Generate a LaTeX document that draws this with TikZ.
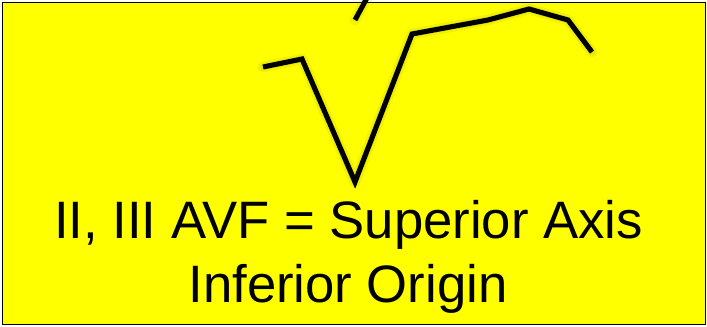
\documentclass[tikz,border=0pt]{standalone}
\usepackage{fontspec}
\setmainfont{Liberation Sans}
\usetikzlibrary{positioning}
\definecolor{leadbg}{RGB}{255,255,0}
\definecolor{shade}{RGB}{150,150,0}

\begin{document}
\begin{tikzpicture}[x=0.75pt, y=-0.75pt,
			trace/.style={draw=black, line width=3.8pt, line join=miter, line cap=butt},
			traceshadow/.style={draw=shade, line width=8pt, opacity=0.12, line join=round, line cap=round, shift={(1.5,3)}},
			caption/.style={anchor=base, inner sep=0pt, font=\fontsize{39.5}{47}\selectfont}
			]
			\useasboundingbox (0,0) rectangle (707,326);
			\clip (0,0) rectangle (707,326);
			
			% Lead panel
			\draw[fill=leadbg, draw=black, line width=1.1pt] (2.5,2.5) rectangle (705.5,324.5);
			
			% QRS complex
			\coordinate (q0) at (263,67);
			\coordinate (q1) at (302,59);
			\coordinate (q2) at (355,182);
			\coordinate (q3) at (412,34);
			\coordinate (q4) at (488,20);
			\coordinate (q5) at (529,9);
			\coordinate (q6) at (568,20);
			\coordinate (q7) at (592,52);
			\coordinate (t0) at (355,20);
			\coordinate (t1) at (368,-4);
			
			\draw[traceshadow] (q0) -- (q1) -- (q2) -- (q3) -- (q4) -- (q5) -- (q6) -- (q7);
			\draw[traceshadow, line width=5pt] (q0) -- (q1) -- (q2) -- (q3) -- (q4) -- (q5) -- (q6) -- (q7);
			\draw[traceshadow] (t0) -- (t1);
			
			\draw[trace] (q0) -- (q1) -- (q2) -- (q3) -- (q4) -- (q5) -- (q6) -- (q7);
			\draw[trace] (t0) -- (t1);
			
			% Caption
			\node[caption] (axis) at (348.5,238.3) {II, III AVF = Superior Axis};
			\node[caption] (origin) at (348,302.3) {Inferior Origin};
		\end{tikzpicture}
\end{document}
